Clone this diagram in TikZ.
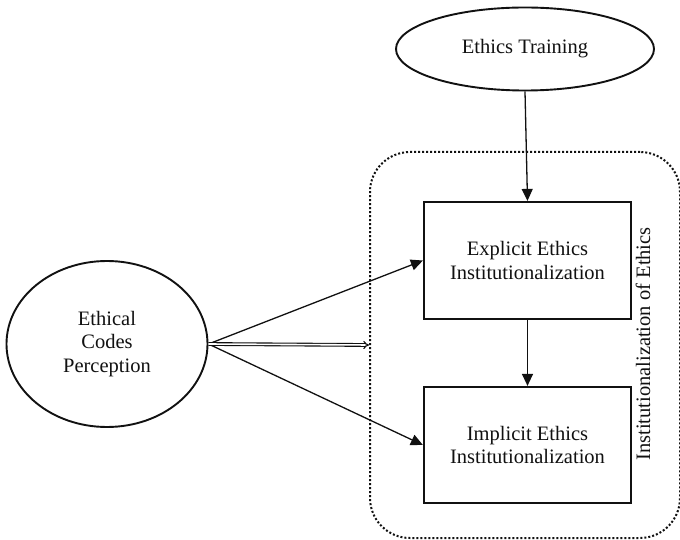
\documentclass[tikz,border=0pt]{standalone}
\usepackage{fontspec}
\setmainfont{Liberation Serif}
\usepackage{tikz}
\usetikzlibrary{arrows.meta,shapes.geometric}
\definecolor{ink}{HTML}{111111}
\tikzset{
  construct/.style={draw=ink, line width=1.9pt, ellipse, inner sep=0pt, align=center},
  dimbox/.style={draw=ink, line width=2.2pt, rectangle, inner sep=0pt, align=center},
  frame/.style={draw=ink, line width=2pt, dash pattern=on 2pt off 2pt, rounded corners=40pt, inner sep=0pt},
  path/.style={draw=ink, line width=1.3pt, -{Triangle[length=12pt,width=11pt]}},
  dpath/.style={draw=ink, line width=1.1pt, double, double distance=1.6pt, -{Implies}},
  lab/.style={text=ink, font=\fontsize{20.5}{23.5}\selectfont}
}
\begin{document}
\begin{tikzpicture}[x=1pt, y=-1pt]
  \useasboundingbox (0,0) rectangle (680,540);

  % outer frame for the two dimensions
  \node[frame, minimum width=310pt, minimum height=386pt] (inst) at (525,345) {};
  \node[lab, rotate=90] (instlab) at (643,344) {Institutionalization of Ethics};

  \node[construct, lab, minimum width=258pt, minimum height=83pt] (train) at (525,49) {Ethics Training};
  \node[construct, lab, minimum width=201pt, minimum height=166pt] (ecp) at (107,344) {Ethical\\Codes\\Perception};

  \node[dimbox, lab, minimum width=207pt, minimum height=117pt] (expl) at (527.5,260.5) {Explicit Ethics\\Institutionalization};
  \node[dimbox, lab, minimum width=207pt, minimum height=116pt] (impl) at (527.5,445) {Implicit Ethics\\Institutionalization};

  \draw[path] (train.south) -- (expl.north);
  \draw[path] (expl.south) -- (impl.north);
  \draw[path] (ecp.east) -- (expl.west);
  \draw[path] (ecp.east) -- (impl.west);
  \draw[dpath] (ecp.east) -- (inst.west);
\end{tikzpicture}
\end{document}
